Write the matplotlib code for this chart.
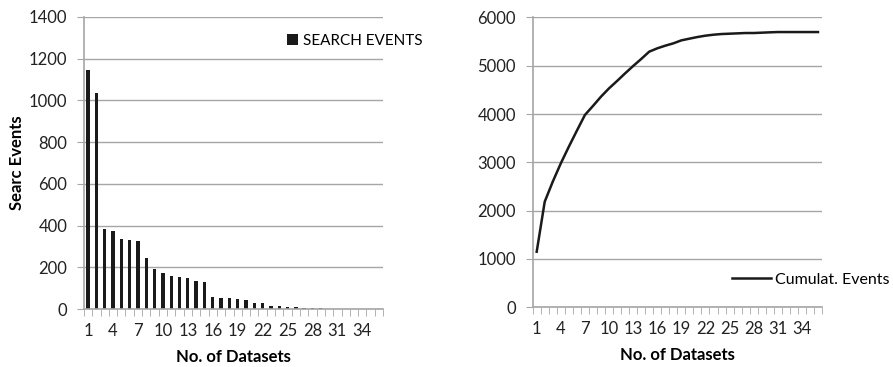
import matplotlib.pyplot as plt
import numpy as np

plt.rcParams['font.family'] = ['Lato', 'DejaVu Sans']

datasets = np.arange(1, 37)
search_events = [1145, 1034, 383, 374, 336, 329, 325, 246, 190, 171, 158, 153,
                 150, 134, 129, 59, 54, 51, 46, 43, 27, 27, 16, 14, 12, 8, 7, 4,
                 3, 2, 2, 2, 2, 1, 1, 1]
cumulative_events = [1150, 2186, 2600, 2979, 3324, 3655, 3980, 4166, 4359, 4531,
                     4683, 4841, 4993, 5138, 5290, 5359, 5414, 5462, 5524, 5559,
                     5593, 5621, 5641, 5655, 5662, 5669, 5676, 5676, 5683, 5690,
                     5696, 5696, 5696, 5696, 5696, 5696]
tick_labels = [str(i) for i in range(1, 37, 3)]

grid_col = '#a6a6a6'
fig = plt.figure(figsize=(8.93, 3.67), dpi=100)
ax1 = fig.add_axes([0.094, 0.158, 0.335, 0.796])
ax2 = fig.add_axes([0.5965, 0.1627, 0.324, 0.790])


def style(ax, ymax, step):
    ax.set_xlim(0.5, 36.5)
    ax.set_ylim(0, ymax)
    ax.set_yticks(np.arange(0, ymax + 1, step))
    ax.set_xticks(range(1, 37, 3))
    ax.set_xticklabels(tick_labels)
    ax.set_xticks(np.arange(0.5, 37, 1), minor=True)
    ax.tick_params(axis='x', which='major', length=0, pad=10, labelsize=12, labelcolor='#222222')
    ax.tick_params(axis='x', which='minor', length=5, color=grid_col, direction='out')
    ax.tick_params(axis='y', length=5, color=grid_col, labelsize=12, labelcolor='#222222', pad=7)
    ax.yaxis.grid(True, color=grid_col, linewidth=1)
    ax.set_axisbelow(True)
    for s in ['top', 'right']:
        ax.spines[s].set_visible(False)
    for s in ['left', 'bottom']:
        ax.spines[s].set_color(grid_col)
        ax.spines[s].set_linewidth(1.2)
    ax.set_xlabel('No. of Datasets', fontweight='bold', fontsize=12, labelpad=7)


ax1.bar(datasets, search_events, width=0.4, color='#1a1a1a', label='SEARCH EVENTS')
style(ax1, 1400, 200)
ax1.set_ylabel('Searc Events', fontweight='bold', fontsize=12, labelpad=3)
ax1.legend(loc='center left', bbox_to_anchor=(0.321, 0.888), bbox_transform=fig.transFigure,
           frameon=False, fontsize=11, handlelength=0.75, handleheight=0.75,
           handletextpad=0.3, borderpad=0, borderaxespad=0)

ax2.plot(datasets, cumulative_events, color='#1a1a1a', linewidth=1.8, label='Cumulat. Events')
style(ax2, 6000, 1000)
ax2.legend(loc='center left', bbox_to_anchor=(0.82, 0.238), bbox_transform=fig.transFigure,
           frameon=False, fontsize=11.5, handlelength=2.4, handletextpad=0.3,
           borderpad=0, borderaxespad=0)

fig.savefig('out.png', dpi=100)
